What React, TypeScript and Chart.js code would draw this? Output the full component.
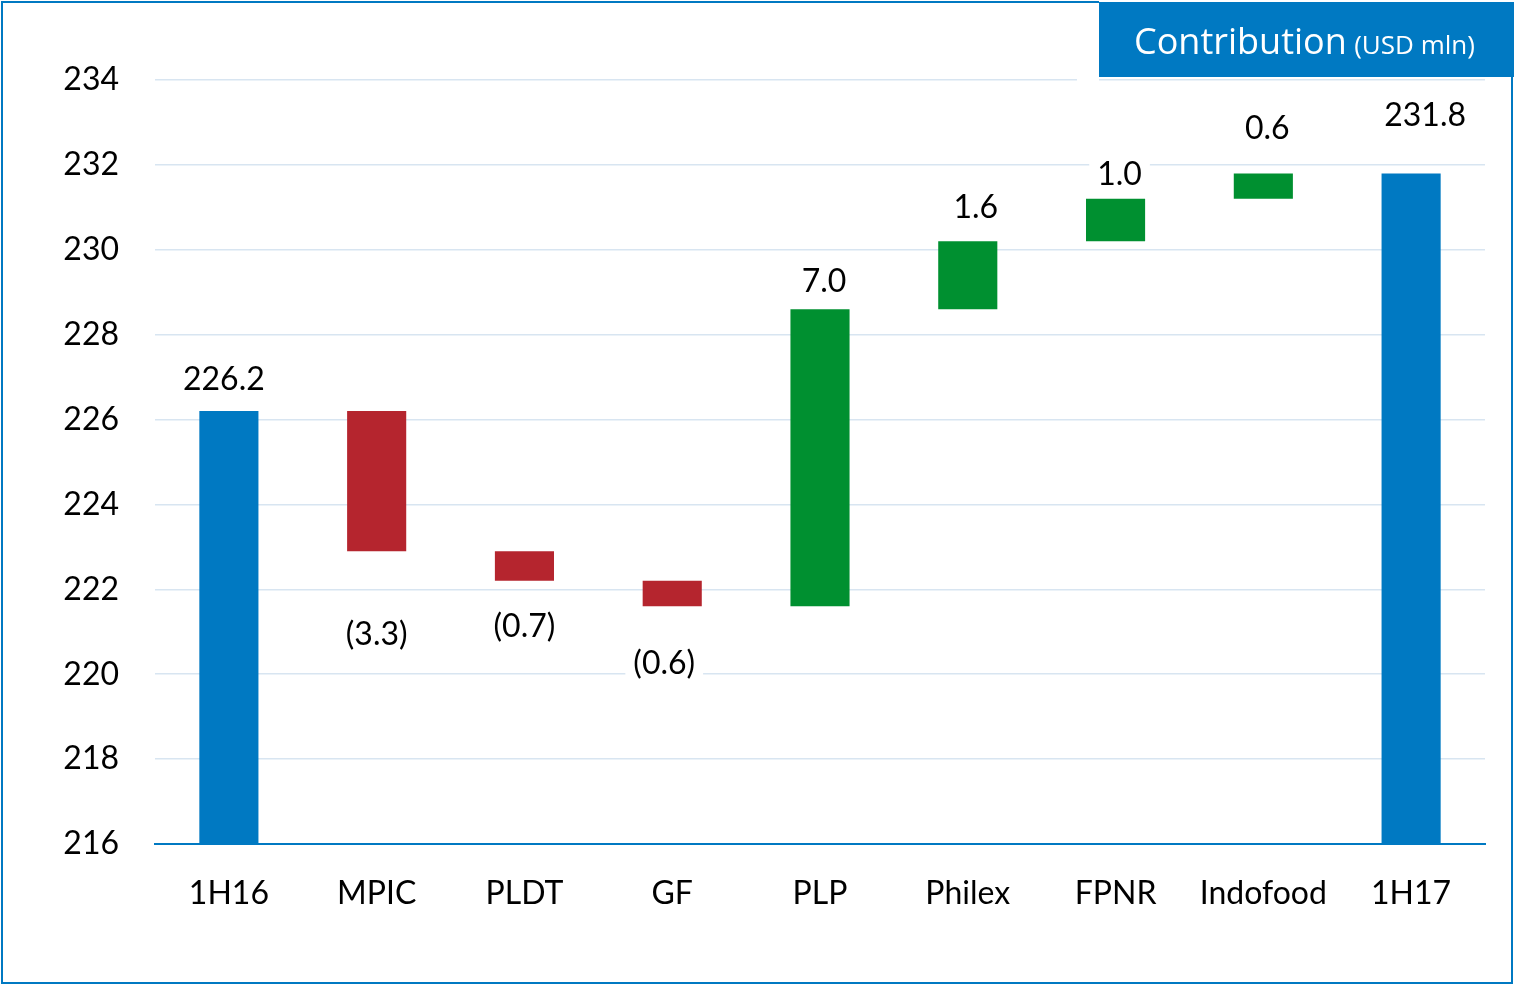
import React, { useEffect, useRef } from "react";
import { Chart, registerables } from "chart.js";

Chart.register(...registerables);

const categories = ["1H16", "MPIC", "PLDT", "GF", "PLP", "Philex", "FPNR", "Indofood", "1H17"];
const openingTotal = 226.2;
const contributions = [-3.3, -0.7, -0.6, 7.0, 1.6, 1.0, 0.6];
const closingTotal = 231.8;
const yTicks = [216, 218, 220, 222, 224, 226, 228, 230, 232, 234];

// label placement (style only, pixels)
const labelOffsetY = [32, 83, 45, 56, 29, 35, 25, 46, 59];
const labelOffsetX = [-5, 0, 0, -8, 4, 8, 4, 4, 14];

const BLUE = "#0079C2";
const RED = "#B5252E";
const GREEN = "#009030";
const FONT = "Lato, 'Open Sans', sans-serif";

export default function App() {
  const ref = useRef<HTMLCanvasElement | null>(null);

  useEffect(() => {
    document.body.style.margin = "0";
    const floating: [number, number][] = [];
    const colors: string[] = [];
    const labels: string[] = [];
    const isNeg: boolean[] = [];
    floating.push([yTicks[0], openingTotal]);
    colors.push(BLUE);
    labels.push(openingTotal.toFixed(1));
    isNeg.push(false);
    let run = openingTotal;
    contributions.forEach((d) => {
      const next = Math.round((run + d) * 10) / 10;
      floating.push([run, next]);
      colors.push(d < 0 ? RED : GREEN);
      labels.push(d < 0 ? `(${Math.abs(d).toFixed(1)})` : d.toFixed(1));
      isNeg.push(d < 0);
      run = next;
    });
    floating.push([yTicks[0], closingTotal]);
    colors.push(BLUE);
    labels.push(closingTotal.toFixed(1));
    isNeg.push(false);

    const decor = {
      id: "decor",
      afterDatasetsDraw(chart: any) {
        const ctx = chart.ctx;
        const meta = chart.getDatasetMeta(0);
        ctx.save();
        ctx.font = `32px ${FONT}`;
        ctx.textAlign = "center";
        ctx.textBaseline = "middle";
        meta.data.forEach((el: any, i: number) => {
          const top = Math.min(el.y, el.base);
          const bottom = Math.max(el.y, el.base);
          const cx = el.x + labelOffsetX[i];
          const cy = isNeg[i] ? bottom + labelOffsetY[i] : top - labelOffsetY[i];
          const w = ctx.measureText(labels[i]).width;
          ctx.fillStyle = "#ffffff";
          ctx.fillRect(cx - w / 2 - 8, cy - 18, w + 16, 36);
          ctx.fillStyle = "#000000";
          ctx.fillText(labels[i], cx, cy + 1);
        });
        ctx.restore();
      },
      afterDraw(chart: any) {
        const ctx = chart.ctx;
        ctx.save();
        ctx.fillStyle = "#ffffff";
        ctx.fillRect(1077, 3, 22, 78);
        ctx.fillStyle = BLUE;
        ctx.fillRect(1099, 2, 415, 75);
        ctx.fillStyle = "#ffffff";
        ctx.textBaseline = "alphabetic";
        ctx.textAlign = "left";
        ctx.font = `36px 'Open Sans', sans-serif`;
        ctx.fillText("Contribution", 1134, 54);
        const w = ctx.measureText("Contribution ").width;
        ctx.font = `26px 'Open Sans', sans-serif`;
        ctx.fillText("(USD mln)", 1134 + w - 2, 54);
        ctx.strokeStyle = BLUE;
        ctx.lineWidth = 2;
        ctx.beginPath();
        ctx.moveTo(1099, 2);
        ctx.lineTo(2, 2);
        ctx.lineTo(2, 983);
        ctx.lineTo(1512, 983);
        ctx.lineTo(1512, 77);
        ctx.stroke();
        ctx.restore();
      },
    };

    const chart = new Chart(ref.current as HTMLCanvasElement, {
      type: "bar",
      data: {
        labels: categories,
        datasets: [
          {
            data: floating as any,
            backgroundColor: colors,
            borderWidth: 0,
            barPercentage: 0.4,
            categoryPercentage: 1,
          },
        ],
      },
      options: {
        animation: false,
        responsive: true,
        maintainAspectRatio: false,
        layout: { padding: { top: 80, right: 29, left: 0, bottom: 0 } },
        plugins: { legend: { display: false }, tooltip: { enabled: false } },
        scales: {
          x: {
            grid: { display: false },
            border: { display: true, color: BLUE, width: 2 },
            ticks: { color: "#000", font: { size: 32, family: FONT }, padding: 22 },
            afterFit: (s: any) => {
              s.height = 141;
            },
          },
          y: {
            min: 216,
            max: 234,
            afterBuildTicks: (s: any) => {
              s.ticks = yTicks.map((v) => ({ value: v }));
            },
            grid: { color: "#D8E5F1", lineWidth: 1.5, drawTicks: false },
            border: { display: false },
            ticks: { color: "#000", font: { size: 32, family: FONT }, padding: 36 },
            afterFit: (s: any) => {
              s.width = 155;
            },
          },
        },
      },
      plugins: [decor],
    });
    return () => chart.destroy();
  }, []);

  return (
    <div style={{ width: 1514, height: 985, position: "relative", background: "#fff" }}>
      <canvas ref={ref} />
    </div>
  );
}
